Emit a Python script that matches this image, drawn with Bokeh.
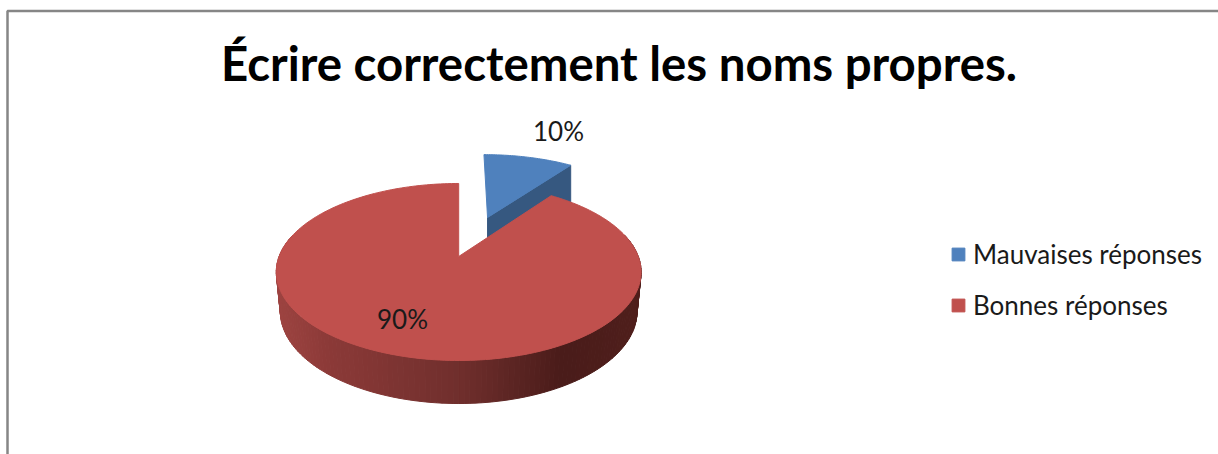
import numpy as np
from bokeh.plotting import figure
from bokeh.models import Legend, LegendItem, Range1d
from bokeh.core.properties import value
from bokeh.embed import file_html
from bokeh.resources import INLINE

# ---- data ----
title_text = "Écrire correctement les noms propres."
categories = ["Mauvaises réponses", "Bonnes réponses"]
shares = [10, 90]
share_labels = ["10%", "90%"]

# ---- style ----
colors = ["#4F81BD", "#C0504D"]
side_blue = "#365880"
wall_stops_x = [278, 330, 460, 560, 640]
wall_stops_rgb = [(158, 68, 65), (140, 58, 56), (112, 47, 45), (74, 28, 26), (80, 31, 28)]
FONT = "Lato"
W, H = 1218, 454
EXPLODE = 0.505
BLUE_DX, BLUE_DY = 3.0, -1.0

# perspective mapping of the unit circle on the page
X0, S, K = 458.2, 179.6, 0.175
Y0, B = 256.0, -41.0
Y2, B2, S2 = 294.9, -37.6, 175.6


def top(u, v):
    w = 1 + K * v
    return X0 + S * u / w, (Y0 + B * v) / w


def rim(u, v):
    w = 1 + K * v
    return X0 + S2 * u / w, (Y2 + B2 * v) / w


total = sum(shares)
edges = np.cumsum([0] + shares) / total * 2 * np.pi  # clockwise from 12 o'clock


def arc(a0, a1, n=120):
    t = np.linspace(a0, a1, n)
    return np.sin(t), np.cos(t)


p = figure(width=W, height=H, output_backend="svg", toolbar_location=None,
           x_range=Range1d(0, W), y_range=Range1d(H, 0),
           min_border=0, outline_line_color=None, background_fill_color="white",
           border_fill_color="white")
p.axis.visible = False
p.grid.visible = False

# chart frame (top and left edges only are in the picture)
p.line([7, 7, W], [H, 10.5, 10.5], line_color="#868686", line_width=2.5)

# blue exploded slice
mid = (edges[0] + edges[1]) / 2
ou, ov = EXPLODE * np.sin(mid), EXPLODE * np.cos(mid)
au, av = arc(edges[0], edges[1], 40)
bx, by = top(np.r_[ou, ou + au], np.r_[ov, ov + av])
bx, by = bx + BLUE_DX, by + BLUE_DY
ax0, ay0 = top(ou, ov)
ax1, ay1 = top(ou + au[-1], ov + av[-1])
ax0, ax1 = ax0 + BLUE_DX, ax1 + BLUE_DX
ay0, ay1 = ay0 + BLUE_DY, ay1 + BLUE_DY
p.patch([ax0, ax1, ax1, ax0], [ay0, ay1, ay1 + 40, ay0 + 40], fill_color=side_blue,
        line_color=side_blue, line_width=1)
blue_top = p.patch(list(bx), list(by), fill_color=colors[0], line_color=colors[0], line_width=1)

# red wall, one facet per step so that the shading follows the rim
t = np.linspace(np.radians(75), np.radians(285), 141)
tx, ty = top(np.sin(t), np.cos(t))
rx, ry = rim(np.sin(t), np.cos(t))
xs, ys, cs = [], [], []
for i in range(len(t) - 1):
    xs.append([tx[i], tx[i + 1], rx[i + 1], rx[i]])
    ys.append([ty[i], ty[i + 1], ry[i + 1], ry[i]])
    xm = (rx[i] + rx[i + 1]) / 2
    rgb = [int(np.interp(xm, wall_stops_x, [c[j] for c in wall_stops_rgb])) for j in range(3)]
    cs.append("#%02x%02x%02x" % tuple(rgb))
p.patches(xs, ys, fill_color=cs, line_color=cs, line_width=1)

# red top face
au, av = arc(edges[1], edges[2], 240)
rtx, rty = top(np.r_[0, au], np.r_[0, av])
red_top = p.patch(list(rtx), list(rty), fill_color=colors[1], line_color=colors[1], line_width=1)

# texts
p.text([618.5], [62], text=[title_text], text_font=value(FONT), text_font_style="bold",
       text_font_size="47.4px", text_align="center", text_baseline="middle", text_color="#000000")
p.text([558, 402], [130, 318], text=share_labels, text_font=value(FONT),
       text_font_size="26px", text_align="center", text_baseline="middle", text_color="#1a1a1a")

legend = Legend(items=[LegendItem(label=categories[0], renderers=[blue_top]),
                       LegendItem(label=categories[1], renderers=[red_top])],
                location=(950, H - 321), border_line_color=None, background_fill_alpha=0,
                label_text_font=FONT, label_text_font_size="26px", label_text_color="#1a1a1a",
                glyph_width=16, glyph_height=16, label_standoff=7, spacing=19,
                margin=0, padding=8, label_height=30)
p.add_layout(legend, "center")

open("out.html", "w").write(file_html(p, INLINE))
